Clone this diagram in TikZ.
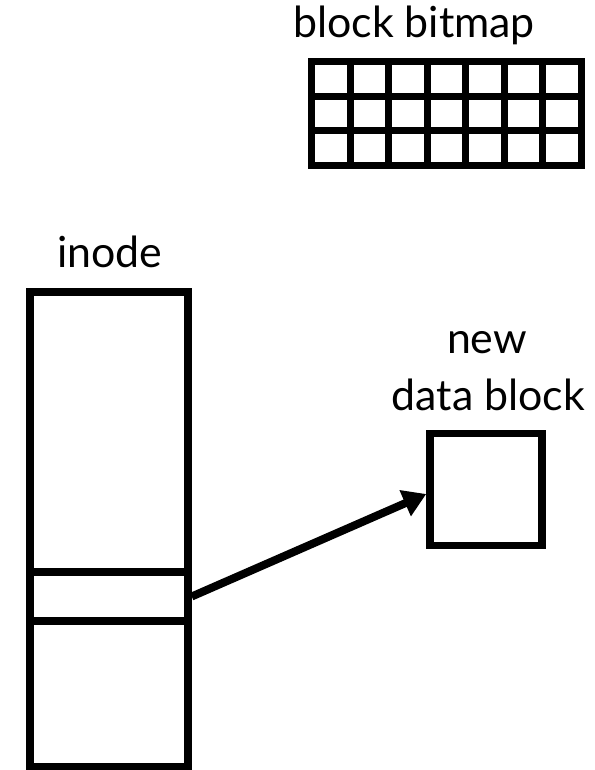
\documentclass[tikz,border=0pt]{standalone}
\usepackage{fontspec}
\setmainfont{Lato}
\usetikzlibrary{arrows.meta}
\begin{document}
\begin{tikzpicture}[x=1bp,y=-1bp,
  lbl/.style={anchor=base,inner sep=0pt,font=\fontsize{43}{47}\selectfont},
  thickbox/.style={draw=black,line width=7.5bp,inner sep=0pt,outer sep=3.75bp},
  gridline/.style={line width=7bp,line cap=rect},
  ptr/.style={line width=8bp,-{Triangle[length=23bp,width=27bp]}}]
\useasboundingbox (0,0) rectangle (595,770);
% block bitmap
\node[lbl] (bmlabel) at (414,38) {block bitmap};
\foreach \i in {0,...,7} {
  \draw[gridline] (311.7+38.514*\i,62) -- (311.7+38.514*\i,165);
}
\foreach \j in {0,...,3} {
  \draw[gridline] (311.7,62+34.333*\j) -- (581.3,62+34.333*\j);
}
% inode
\node[lbl] (inodelabel) at (110,267) {inode};
\node[thickbox,minimum width=158bp,minimum height=474.5bp] (inode) at (109,529.25) {};
\node[thickbox,minimum width=158bp,minimum height=49bp] (slot) at (109,596.5) {};
% new data block
\node[lbl] (newlabel) at (487,353) {new};
\node[lbl] (datalabel) at (488.5,410) {data block};
\node[thickbox,minimum width=112bp,minimum height=112bp] (nb) at (486,489.5) {};
\draw[ptr] (slot.east) -- ([yshift=-4.5bp]nb.west);
\end{tikzpicture}
\end{document}
